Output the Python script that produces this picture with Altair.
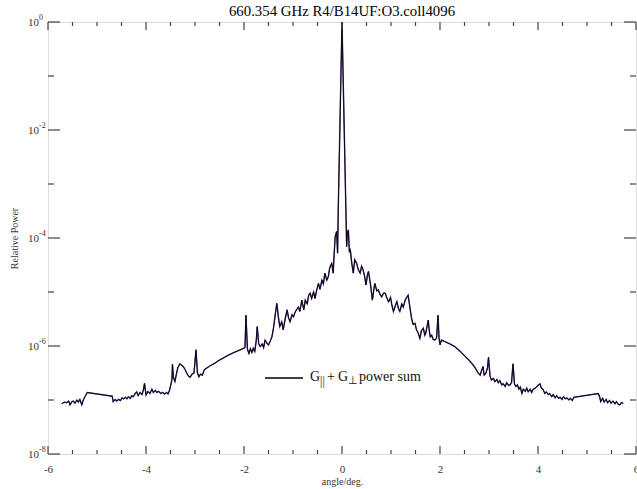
import altair as alt
import pandas as pd

# Beam pattern: angle (deg) and log10 of relative power
angle = [
    -5.72, -5.67, -5.62, -5.58, -5.55, -5.51, -5.48, -5.45, -5.41, -5.38, -5.35, -5.31, -5.28, -5.24, -5.20,
    -4.69, -4.67, -4.63, -4.60, -4.56, -4.52, -4.49, -4.46, -4.42, -4.39, -4.36, -4.32, -4.29, -4.26, -4.22,
    -4.19, -4.16, -4.12, -4.08, -4.05, -4.03, -4.00, -3.96, -3.92, -3.88, -3.85, -3.81, -3.78, -3.74, -3.70,
    -3.66, -3.62, -3.58, -3.55, -3.52, -3.49, -3.47, -3.46, -3.44, -3.41, -3.38, -3.35, -3.31, -3.28, -3.24,
    -3.20, -3.17, -3.13, -3.10, -3.06, -3.02, -2.98, -2.95, -2.92, -2.89, -2.85, -2.81,
    -2.70, -2.60, -2.50, -2.40, -2.30, -2.20, -2.10, -2.00,
    -1.98, -1.96, -1.93, -1.90, -1.87, -1.84, -1.81, -1.78, -1.75, -1.73, -1.70, -1.67, -1.63, -1.60, -1.57,
    -1.53, -1.50, -1.46, -1.43, -1.40, -1.36, -1.33, -1.30, -1.27, -1.23, -1.20, -1.16, -1.12, -1.09, -1.06,
    -1.02, -0.99, -0.96, -0.93, -0.89, -0.86, -0.82, -0.78, -0.75, -0.71, -0.68, -0.65, -0.62, -0.58, -0.55,
    -0.52, -0.48, -0.45, -0.41, -0.38, -0.35, -0.31, -0.28, -0.25, -0.21, -0.18, -0.16, -0.14, -0.11, -0.09,
    -0.075, 0.0, 0.095, 0.11, 0.13, 0.15, 0.17, 0.20, 0.23, 0.26, 0.30, 0.33, 0.37, 0.40, 0.43,
    0.46, 0.49, 0.52, 0.54, 0.58, 0.62, 0.65, 0.67, 0.71, 0.74, 0.78, 0.81, 0.85, 0.88, 0.92,
    0.95, 0.99, 1.02, 1.05, 1.09, 1.12, 1.15, 1.18, 1.22, 1.25, 1.29, 1.32, 1.35, 1.38, 1.42,
    1.45, 1.49, 1.52, 1.55, 1.59, 1.62, 1.66, 1.69, 1.71, 1.74, 1.76, 1.78, 1.80, 1.83, 1.86,
    1.90, 1.93, 1.96, 1.98, 2.00, 2.03,
    2.10, 2.20, 2.30, 2.40, 2.50, 2.60, 2.70, 2.78, 2.82,
    2.85, 2.88, 2.90, 2.94, 2.97, 2.99, 3.02, 3.05, 3.09, 3.12, 3.16, 3.19, 3.22, 3.26, 3.29,
    3.33, 3.36, 3.40, 3.43, 3.46, 3.49, 3.52, 3.55, 3.58, 3.61, 3.64, 3.67, 3.70, 3.74, 3.77,
    3.80, 3.84, 3.87, 3.90, 3.94, 3.97, 4.01, 4.04, 4.07, 4.10, 4.14, 4.17, 4.21, 4.24, 4.28,
    4.31, 4.35, 4.38, 4.42, 4.45, 4.49, 4.52, 4.56, 4.59, 4.63, 4.66, 4.70, 4.73,
    5.23, 5.26, 5.28, 5.32, 5.35, 5.39, 5.42, 5.46, 5.49, 5.53, 5.57, 5.60, 5.64, 5.67, 5.70, 5.74,
]
log_power = [
    -7.07, -7.04, -7.05, -7.02, -7.09, -7.03, -7.02, -7.06, -7.00, -7.04, -6.99, -7.09, -7.00, -6.93, -6.86,
    -6.93, -7.03, -6.99, -7.02, -6.99, -7.01, -6.96, -6.98, -6.95, -6.98, -6.94, -6.97, -6.92, -6.94, -6.88,
    -6.85, -6.92, -6.86, -6.90, -6.80, -6.69, -6.91, -6.84, -6.88, -6.80, -6.86, -6.82, -6.86, -6.84, -6.88,
    -6.86, -6.89, -6.86, -6.89, -6.82, -6.70, -6.62, -6.34, -6.58, -6.66, -6.52, -6.40, -6.33, -6.35, -6.38,
    -6.44, -6.50, -6.56, -6.58, -6.52, -6.50, -6.07, -6.50, -6.57, -6.52, -6.54, -6.44,
    -6.37, -6.32, -6.26, -6.21, -6.16, -6.12, -6.08, -6.04,
    -6.03, -5.43, -6.06, -6.14, -6.05, -6.12, -6.04, -6.10, -5.90, -5.64, -5.96, -6.01, -5.96, -6.03, -5.89,
    -5.95, -5.98, -5.90, -5.83, -5.68, -5.40, -5.21, -5.45, -5.64, -5.55, -5.70, -5.50, -5.33, -5.48, -5.55,
    -5.42, -5.46, -5.38, -5.33, -5.28, -5.36, -5.15, -5.33, -5.15, -5.22, -5.06, -5.02, -5.12, -5.00, -5.12,
    -4.98, -4.84, -4.95, -4.78, -4.85, -4.65, -4.78, -4.72, -4.55, -4.47, -4.65, -4.30, -3.98, -3.88, -4.28,
    -3.40, 0.00, -4.16, -3.90, -3.85, -4.25, -4.22, -4.47, -4.65, -4.40, -4.47, -4.58, -4.65, -4.52, -4.59,
    -4.70, -4.87, -4.68, -4.62, -4.85, -5.15, -4.95, -4.84, -4.98, -4.96, -5.05, -5.09, -5.02, -5.02, -5.12,
    -5.18, -5.10, -5.25, -5.36, -5.25, -5.18, -5.30, -5.36, -5.22, -5.28, -5.15, -5.10, -5.06, -5.25, -5.49,
    -5.60, -5.58, -5.70, -5.75, -5.86, -5.72, -5.67, -5.80, -5.76, -5.62, -5.52, -5.70, -5.83, -5.80, -5.88,
    -5.89, -5.85, -5.43, -5.85, -5.98, -5.89,
    -5.92, -5.96, -6.01, -6.09, -6.18, -6.27, -6.38, -6.50, -6.54,
    -6.45, -6.38, -6.54, -6.50, -6.40, -6.21, -6.55, -6.63, -6.60, -6.66, -6.62, -6.68, -6.64, -6.72, -6.70,
    -6.75, -6.68, -6.73, -6.72, -6.68, -6.33, -6.70, -6.75, -6.72, -6.80, -6.76, -6.88, -6.80, -6.84, -6.78,
    -6.85, -6.80, -6.86, -6.80, -6.78, -6.76, -6.72, -6.70, -6.78, -6.80, -6.88, -6.85, -6.90, -6.88, -6.94,
    -6.90, -6.96, -6.92, -6.97, -6.95, -6.99, -6.94, -6.98, -6.96, -7.00, -6.97, -7.01, -6.95,
    -6.88, -6.95, -7.03, -6.97, -7.04, -6.99, -7.05, -7.01, -7.06, -7.02, -7.07, -7.03, -7.08, -7.09, -7.05, -7.06,
]

x_major = [-6, -4, -2, 0, 2, 4, 6]
x_minor = [-5.5, -5, -4.5, -3.5, -3, -2.5, -1.5, -1, -0.5, 0.5, 1, 1.5, 2.5, 3, 3.5, 4.5, 5, 5.5]
y_major_exp = [0, -2, -4, -6, -8]
y_minor_exp = [-1, -3, -5, -7]

TITLE = "660.354 GHz R4/B14UF:O3.coll4096"
FONT = "Liberation Serif"
AXIS_COLOR = "#444444"
TEXT_COLOR = "#333333"
W, H = 588, 432

beam = pd.DataFrame({"angle": angle, "power": [10.0 ** v for v in log_power]})
xmaj = pd.DataFrame({"angle": x_major})
xmin = pd.DataFrame({"angle": x_minor})
ymaj = pd.DataFrame({"power": [10.0 ** e for e in y_major_exp],
                     "base": ["10"] * len(y_major_exp),
                     "sup": [str(e) for e in y_major_exp]})
ymin = pd.DataFrame({"power": [10.0 ** e for e in y_minor_exp]})
one = pd.DataFrame({"k": [0]})

x_scale = alt.Scale(domain=[-6, 6], nice=False, zero=False)
y_scale = alt.Scale(type="log", domain=[1e-8, 1], nice=False)

x_axis = alt.Axis(values=x_major, ticks=False, domain=False, grid=False,
                  labelExpr="'' + datum.value", labelFont=FONT, labelFontSize=11,
                  labelColor=TEXT_COLOR, labelPadding=9, labelFlush=False,
                  title="angle/deg.", titleFont=FONT, titleFontSize=10,
                  titleFontWeight="normal", titleColor=TEXT_COLOR, titlePadding=2)
y_axis = alt.Axis(labels=False, ticks=False, domain=False, grid=False,
                  title="Relative Power", titleFont=FONT, titleFontSize=10,
                  titleFontWeight="normal", titleColor=TEXT_COLOR,
                  titleX=-34, titleY=H / 2, titleAngle=-90,
                  titleAlign="center", titleBaseline="middle")

X = alt.X("angle:Q", scale=x_scale, axis=x_axis)
Y = alt.Y("power:Q", scale=y_scale, axis=y_axis)

# two overlapping traces of the power sum
trace_purple = alt.Chart(beam).mark_line(color="#4a2a7a", strokeWidth=1.4).encode(x=X, y=Y)
trace_black = alt.Chart(beam).mark_line(color="#000000", strokeWidth=0.8).encode(x=X, y=Y)

tick_style = dict(color=AXIS_COLOR, strokeWidth=1.2)
xt = alt.X("angle:Q", scale=x_scale)
yt = alt.Y("power:Q", scale=y_scale)
ticks = [
    alt.Chart(xmaj).mark_rule(**tick_style).encode(x=xt, y=alt.value(H), y2=alt.value(H - 8)),
    alt.Chart(xmaj).mark_rule(**tick_style).encode(x=xt, y=alt.value(0), y2=alt.value(8)),
    alt.Chart(xmin).mark_rule(**tick_style).encode(x=xt, y=alt.value(H), y2=alt.value(H - 4)),
    alt.Chart(xmin).mark_rule(**tick_style).encode(x=xt, y=alt.value(0), y2=alt.value(4)),
    alt.Chart(ymaj).mark_rule(**tick_style).encode(y=yt, x=alt.value(0), x2=alt.value(12)),
    alt.Chart(ymaj).mark_rule(**tick_style).encode(y=yt, x=alt.value(W), x2=alt.value(W - 12)),
    alt.Chart(ymin).mark_rule(**tick_style).encode(y=yt, x=alt.value(0), x2=alt.value(6)),
    alt.Chart(ymin).mark_rule(**tick_style).encode(y=yt, x=alt.value(W), x2=alt.value(W - 6)),
]

# power-of-ten labels on the y axis
ylab_base = alt.Chart(ymaj).mark_text(
    font=FONT, fontSize=11, color=TEXT_COLOR, align="right", baseline="middle", dy=1
).encode(y=yt, x=alt.value(-9), text="base:N")
ylab_sup = alt.Chart(ymaj).mark_text(
    font=FONT, fontSize=8, color=TEXT_COLOR, align="left", baseline="middle", dy=-4
).encode(y=yt, x=alt.value(-9), text="sup:N")

# heading above the frame
heading = alt.Chart(one).mark_text(
    text=TITLE, font=FONT, fontSize=14.8, color="#000000", align="center", baseline="alphabetic"
).encode(x=alt.value(W / 2), y=alt.value(-6))

# in-plot key
key_line = alt.Chart(one).mark_rule(color="#000000", strokeWidth=1.5).encode(
    x=alt.value(217), x2=alt.value(255), y=alt.value(356))


def key_text(txt, x, y, size):
    return alt.Chart(one).mark_text(
        text=txt, font=FONT, fontSize=size, color="#111111", align="left", baseline="alphabetic"
    ).encode(x=alt.value(x), y=alt.value(y))


key = [
    key_line,
    key_text("G", 262, 359, 14),
    key_text("||", 272, 363, 12),
    key_text("+", 279, 359, 14),
    key_text("G", 290, 359, 14),
    key_text("⊥", 300, 362, 11),
    key_text("power sum", 311, 359, 14),
]

chart = alt.layer(
    trace_purple, trace_black, *ticks, ylab_base, ylab_sup, heading, *key
).properties(
    width=W, height=H,
    autosize=alt.AutoSizeParams(type="none"),
    padding={"left": 48, "top": 22, "right": 1, "bottom": 35},
).configure_view(
    stroke=AXIS_COLOR, strokeWidth=1.5
).configure(background="white")

chart.save("out.html", embed_options={"renderer": "svg", "actions": False})
